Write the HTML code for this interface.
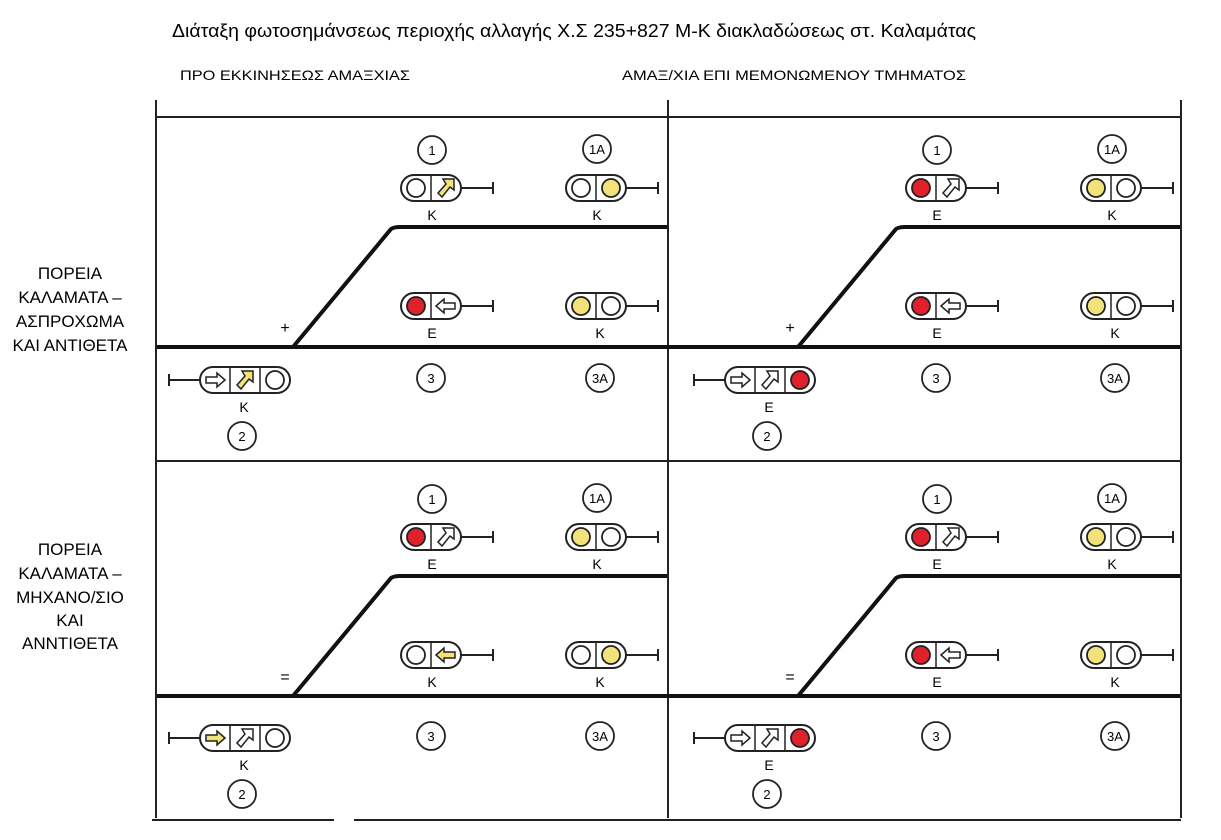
<!DOCTYPE html>
<html><head><meta charset="utf-8"><style>
html,body{margin:0;padding:0;background:#fff;}
svg{display:block;font-family:"Liberation Sans",sans-serif;}
</style></head><body>
<svg id="s" width="1221" height="840" viewBox="0 0 1221 840">
<rect width="1221" height="840" fill="#fff"/>
<text x="172" y="37" font-size="18" textLength="804" lengthAdjust="spacingAndGlyphs">Διάταξη φωτοσημάνσεως περιοχής αλλαγής Χ.Σ 235+827 Μ-Κ διακλαδώσεως στ. Καλαμάτας</text>
<text x="180" y="80" font-size="14" textLength="230" lengthAdjust="spacingAndGlyphs">ΠΡΟ ΕΚΚΙΝΗΣΕΩΣ ΑΜΑΞΧΙΑΣ</text>
<text x="622" y="80" font-size="14" textLength="344" lengthAdjust="spacingAndGlyphs">ΑΜΑΞ/ΧΙΑ ΕΠΙ ΜΕΜΟΝΩΜΕΝΟΥ ΤΜΗΜΑΤΟΣ</text>
<g font-size="17" text-anchor="middle">
<text x="70" y="279">ΠΟΡΕΙΑ</text><text x="70" y="303">ΚΑΛΑΜΑΤΑ –</text><text x="70" y="327">ΑΣΠΡΟΧΩΜΑ</text><text x="70" y="351">ΚΑΙ ΑΝΤΙΘΕΤΑ</text></g>
<g font-size="17" text-anchor="middle">
<text x="70" y="555">ΠΟΡΕΙΑ</text><text x="70" y="579">ΚΑΛΑΜΑΤΑ –</text><text x="70" y="603">ΜΗΧΑΝΟ/ΣΙΟ</text><text x="70" y="626">ΚΑΙ</text><text x="70" y="649">ΑΝΝΤΙΘΕΤΑ</text></g>
<g stroke="#222" stroke-width="2" fill="none">
<line x1="156" y1="100" x2="156" y2="818"/>
<line x1="668" y1="100" x2="668" y2="818"/>
<line x1="1181" y1="100" x2="1181" y2="818"/>
<line x1="156" y1="117" x2="1181" y2="117"/>
<line x1="156" y1="461" x2="1181" y2="461"/>
<line x1="152" y1="820" x2="334" y2="820"/>
<line x1="354" y1="820" x2="1181" y2="820"/>
</g>
<g id="q"></g>
</svg>
<script>
const NS="http://www.w3.org/2000/svg";
const root=document.getElementById('q');
function el(tag,attrs,parent){const e=document.createElementNS(NS,tag);for(const k in attrs)e.setAttribute(k,attrs[k]);(parent||root).appendChild(e);return e;}
const RED="#e0202a",YEL="#f2e27a";
const quads=[
 {dx:0,dx2:0,dy:0,dy2:0,mark:"+",s1:["w","yU"],l1:"Κ",s1a:["w","y"],l1a:"Κ",s3:["r","aL"],l3:"Ε",s3a:["y","w"],l3a:"Κ",s2:["aR","yU","w"],l2:"Κ"},
 {dx:505,dx2:515,dy:0,dy2:0,mark:"+",s1:["r","aU"],l1:"Ε",s1a:["y","w"],l1a:"Κ",s3:["r","aL"],l3:"Ε",s3a:["y","w"],l3a:"Κ",s2:["aR","aU","r"],l2:"Ε"},
 {dx:0,dx2:0,dy:349,dy2:358,mark:"=",s1:["r","aU"],l1:"Ε",s1a:["y","w"],l1a:"Κ",s3:["w","yL"],l3:"Κ",s3a:["w","y"],l3a:"Κ",s2:["yR","aU","w"],l2:"Κ"},
 {dx:505,dx2:515,dy:349,dy2:358,mark:"=",s1:["r","aU"],l1:"Ε",s1a:["y","w"],l1a:"Κ",s3:["r","aL"],l3:"Ε",s3a:["y","w"],l3a:"Κ",s2:["aR","aU","r"],l2:"Ε"}
];
function arrow(g,cx,cy,dir,fill){
 let pts;
 if(dir==="L")pts=[[-10,0],[-2,-7],[-2,-3],[9,-3],[9,3],[-2,3],[-2,7]];
 else if(dir==="R")pts=[[10,0],[2,-7],[2,-3],[-9,-3],[-9,3],[2,3],[2,7]];
 else pts=[[8,-9],[8,2],[4,-1],[-4,9],[-8,5],[0,-4],[-3,-9]];
 el('polygon',{points:pts.map(p=>(cx+p[0])+","+(cy+p[1])).join(" "),fill:fill,stroke:"#222","stroke-width":1.5},g);
}
function lamp(g,cx,cy,c){
 if(c==="w"||c==="y"||c==="r"){
  el('circle',{cx:cx,cy:cy,r:9,fill:c==="w"?"#fff":c==="y"?YEL:RED,stroke:"#222","stroke-width":1.8},g);
 }else{
  const col=c[0]==="y"?YEL:"#fff";arrow(g,cx,cy,c[1],col);
 }
}
function signal(name,x,y,lamps,stemDir,label,lx){
 const g=el('g',{});
 
 
 const w=lamps.length*30;
 el('rect',{x:x,y:y-13,width:w,height:26,rx:13,fill:"#fff",stroke:"#222","stroke-width":2},g);
 for(let i=1;i<lamps.length;i++)el('line',{x1:x+30*i,y1:y-13,x2:x+30*i,y2:y+13,stroke:"#222","stroke-width":1.5},g);
 lamps.forEach((c,i)=>lamp(g,x+15+30*i,y,c));
 if(stemDir>0){el('line',{x1:x+w,y1:y,x2:x+w+32,y2:y,stroke:"#222","stroke-width":2},g);el('line',{x1:x+w+32,y1:y-6,x2:x+w+32,y2:y+6,stroke:"#222","stroke-width":2},g);}
 else{el('line',{x1:x,y1:y,x2:x-31,y2:y,stroke:"#222","stroke-width":2},g);el('line',{x1:x-31,y1:y-6,x2:x-31,y2:y+6,stroke:"#222","stroke-width":2},g);}
 const t=el('text',{x:lx,y:y+32,"font-size":14,"text-anchor":"middle"},g);t.textContent=label;
}
function badge(name,x,y,txt){
 const g=el('g',{});
 
 
 el('circle',{cx:x,cy:y,r:14,fill:"#fff",stroke:"#222","stroke-width":1.8},g);
 const t=el('text',{x:x,y:y+5,"font-size":13,"text-anchor":"middle"},g);t.textContent=txt;
}
quads.forEach((q,i)=>{
 const X=q.dx,X2=q.dx2,Y=q.dy,Y2=q.dy2;
 const endX=i%2?1180:667;
 const tr=el('path',{d:`M${157+X} ${347+Y} H${endX} M${293+X} ${347+Y} L${391+X} ${229+Y} Q${394+X} ${227+Y} ${400+X} ${227+Y} H${endX}`,stroke:"#111","stroke-width":4,fill:"none"});
 
 
 const m=el('text',{x:285+X,y:333+Y,"font-size":16,"text-anchor":"middle"});m.textContent=q.mark;
 
 
 badge('badge-1-q'+(i+1),432+X,150+Y,"1");
 badge('badge-1a-q'+(i+1),597+X2,149+Y,"1Α");
 badge('badge-3-q'+(i+1),431+X,378+Y2,"3");
 badge('badge-3a-q'+(i+1),600+X2,378+Y2,"3Α");
 badge('badge-2-q'+(i+1),242+X+(i%2?20:0),436+Y2,"2");
 signal('signal-1-q'+(i+1),401+X,188+Y,q.s1,1,q.l1,432+X);
 signal('signal-1a-q'+(i+1),566+X2,188+Y,q.s1a,1,q.l1a,597+X2);
 signal('signal-3-q'+(i+1),401+X,306+Y,q.s3,1,q.l3,432+X);
 signal('signal-3a-q'+(i+1),566+X2,306+Y,q.s3a,1,q.l3a,600+X2);
 signal('signal-2-q'+(i+1),200+X+(i%2?20:0),380+Y2,q.s2,-1,q.l2,244+X+(i%2?20:0));
});
</script>
</body></html>
